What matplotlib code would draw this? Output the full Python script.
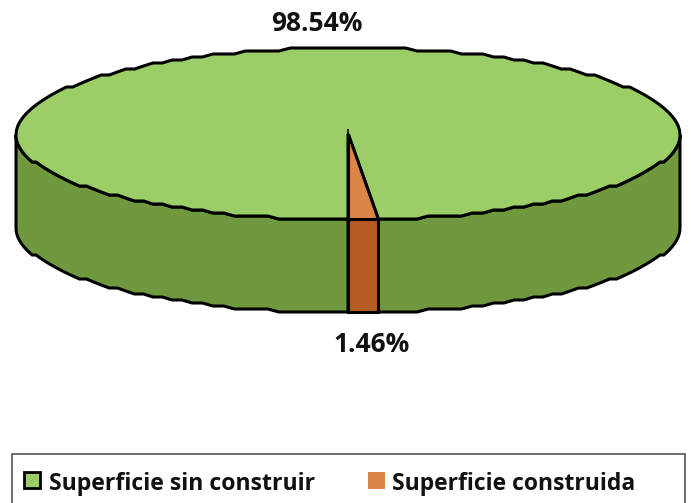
import numpy as np
import matplotlib
matplotlib.use("Agg")
import matplotlib.pyplot as plt
from matplotlib.patches import Polygon, Rectangle

labels = ["Superficie sin construir", "Superficie construida"]
values = [98.54, 1.46]
value_labels = ["98.54%", "1.46%"]
top_colors = ["#9BCE67", "#DC8548"]
side_colors = ["#6F983F", "#B55C26"]

cx, cy = 348, 134
rx, ry = 332, 86
depth = 93
text_font = "Open Sans"


def rim(a0, a1, dy=0):
    # fixed angle grid so the top and the wall share the same stepped edge
    grid = np.arange(np.ceil(a0 / 2.0) * 2.0, a1, 2.0)
    deg = np.unique(np.concatenate([[a0], grid, [a1]]))
    a = np.radians(deg)
    x = cx + rx * np.cos(a)
    y = cy - ry * np.sin(a)
    y = np.round(y / 3.0) * 3.0
    return np.column_stack([x, y + dy])


def wall(a0, a1, color):
    a0, a1 = max(a0, 180), min(a1, 360)
    if a1 <= a0:
        return
    pts = np.vstack([rim(a0, a1), rim(a0, a1, depth)[::-1]])
    ax.add_patch(Polygon(pts, closed=True, fc=color, ec="black", lw=2.2, joinstyle="miter"))


fig = plt.figure(figsize=(6.91, 5.03), dpi=100, facecolor="white")
ax = fig.add_axes([0, 0, 1, 1])
ax.set_xlim(0, 691)
ax.set_ylim(503, 0)
ax.axis("off")

# orange slice starts at the front and runs counter clockwise
start = 270
sweep = np.array(values) / sum(values) * 360
a_big = (start + sweep[1], start + sweep[1] + sweep[0])
a_small = (start, start + sweep[1])

wall(a_big[0], 360, side_colors[0])
wall(180, 270, side_colors[0])
wall(a_small[0], a_small[1], side_colors[1])

for (a0, a1), c in zip([a_big, a_small], top_colors):
    pts = np.vstack([[cx, cy], rim(a0, a1)])
    ax.add_patch(Polygon(pts, closed=True, fc=c, ec="black", lw=2.2, joinstyle="miter"))

# agg cuts the sharp miter short, put the spike back
ax.plot([cx, cx], [cy, cy - 5], color="black", lw=1.2, solid_capstyle="butt")

font = dict(family=text_font, fontweight="bold", color="#111111", ha="center", va="center")
ax.text(317, 23, value_labels[0], fontsize=19, **font)
ax.text(372, 345, value_labels[1], fontsize=19, **font)

# legend frame runs off the bottom of the picture
ax.add_patch(Rectangle((12, 454), 673, 70, fc="white", ec="#555555", lw=1.2))
ax.add_patch(Rectangle((24, 472), 16, 16, fc=top_colors[0], ec="black", lw=2))
ax.add_patch(Rectangle((368, 472), 17, 17, fc=top_colors[1], ec="none"))
ax.text(49, 484, labels[0], fontsize=16.7, family=text_font, fontweight="bold", color="#111111", va="center")
ax.text(392, 484, labels[1], fontsize=16.5, family=text_font, fontweight="bold", color="#111111", va="center")

fig.savefig("out.png", dpi=100)
